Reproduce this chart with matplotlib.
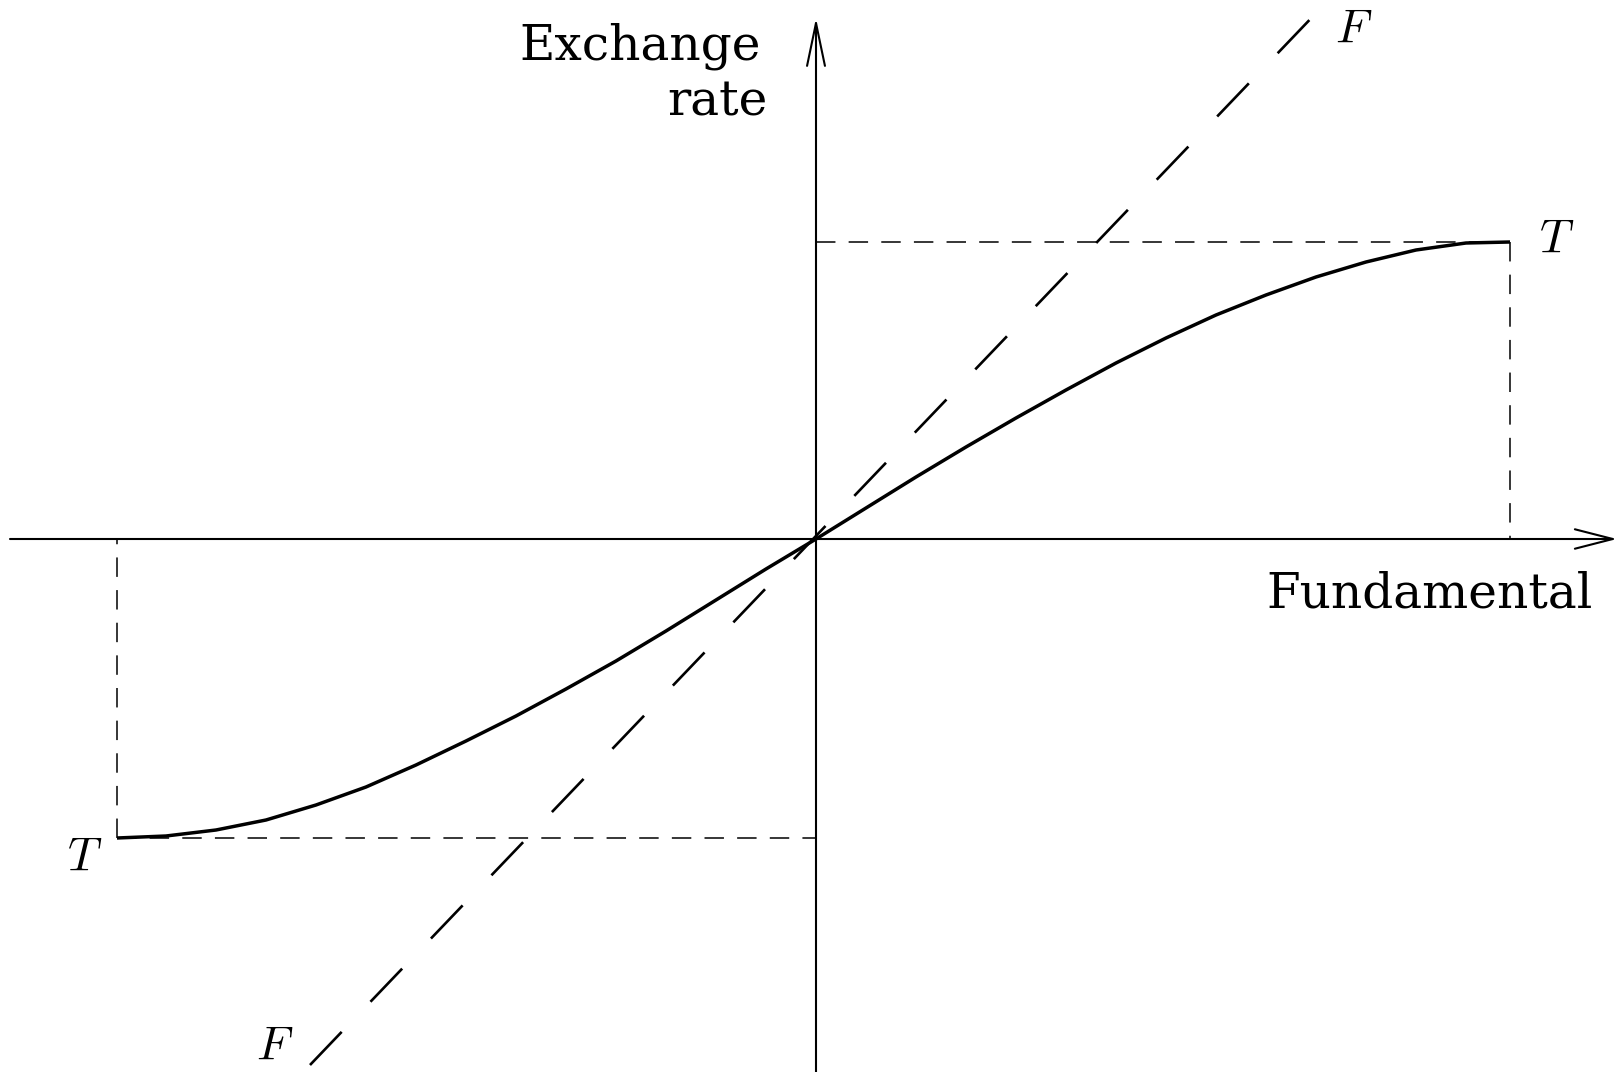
import matplotlib
matplotlib.use("Agg")
import matplotlib.pyplot as plt

plt.rcParams['mathtext.fontset'] = 'cm'
plt.rcParams['lines.scale_dashes'] = False

# Transition curve T (fundamental, exchange rate)
curve_fund = [-699, -650, -600, -550, -500, -450, -400, -350, -300, -250, -200, -150, -100, -50, 0,
              50, 100, 150, 200, 250, 300, 350, 400, 450, 500, 550, 600, 650, 694]
curve_rate = [-299, -297, -291, -281, -266, -248, -226, -202, -177, -150, -122, -92, -61, -30, 0,
              31, 62, 92, 121, 149, 176, 201, 224, 244, 262, 277, 289, 296, 297]

# Free-float line F (endpoints)
f_fund = [-506, 503]
f_rate = [-526, 529]

# Bounds of the band
t_low_fund, t_high_fund = -699, 694
t_low_rate, t_high_rate = -299, 297

fig = plt.figure(figsize=(16.22, 10.72), dpi=100)
ax = fig.add_axes([0, 0, 1, 1])
ax.set_xlim(-816, 806)
ax.set_ylim(-533, 539)
ax.axis('off')

# Axes with open arrows
ax.annotate('', xy=(801, 0), xytext=(-806, 0),
            arrowprops=dict(arrowstyle='->,head_length=1.95,head_width=0.5', lw=1.5,
                            color='black', shrinkA=0, shrinkB=0, mutation_scale=14))
ax.annotate('', xy=(0, 521), xytext=(0, -540),
            arrowprops=dict(arrowstyle='->,head_length=2.2,head_width=0.46', lw=1.5,
                            color='black', shrinkA=0, shrinkB=0, mutation_scale=14))

# Dashed guide lines for the band
short_dash = (0, (14, 9.5))
ax.plot([0, t_high_fund], [t_high_rate, t_high_rate], color='black', lw=1.1, ls=short_dash)
ax.plot([t_high_fund, t_high_fund], [t_high_rate, 0], color='black', lw=1.1, ls=short_dash)
ax.plot([t_low_fund, 0], [t_low_rate, t_low_rate], color='black', lw=1.1, ls=short_dash)
ax.plot([t_low_fund, t_low_fund], [t_low_rate, 0], color='black', lw=1.1, ls=short_dash)

# F line
ax.plot(f_fund, f_rate, color='black', lw=1.9, ls=(0, (33, 30)))

# T curve
ax.plot(curve_fund, curve_rate, color='black', lw=2.5, solid_capstyle='butt', solid_joinstyle='round')

# Labels
serif = 'DejaVu Serif'
ax.text(-176, 479, 'Exchange', ha='center', va='baseline', fontfamily=serif, fontsize=35)
ax.text(-99, 424, 'rate', ha='center', va='baseline', fontfamily=serif, fontsize=35)
ax.text(614, -69, 'Fundamental', ha='center', va='baseline', fontfamily=serif, fontsize=35)

ax.text(538, 510, '$F$', ha='center', va='center', fontsize=34)
ax.text(-541, -507, '$F$', ha='center', va='center', fontsize=34)
ax.text(741, 300, '$T$', ha='center', va='center', fontsize=34)
ax.text(-731, -318, '$T$', ha='center', va='center', fontsize=34)

fig.savefig('out.png', dpi=100)
